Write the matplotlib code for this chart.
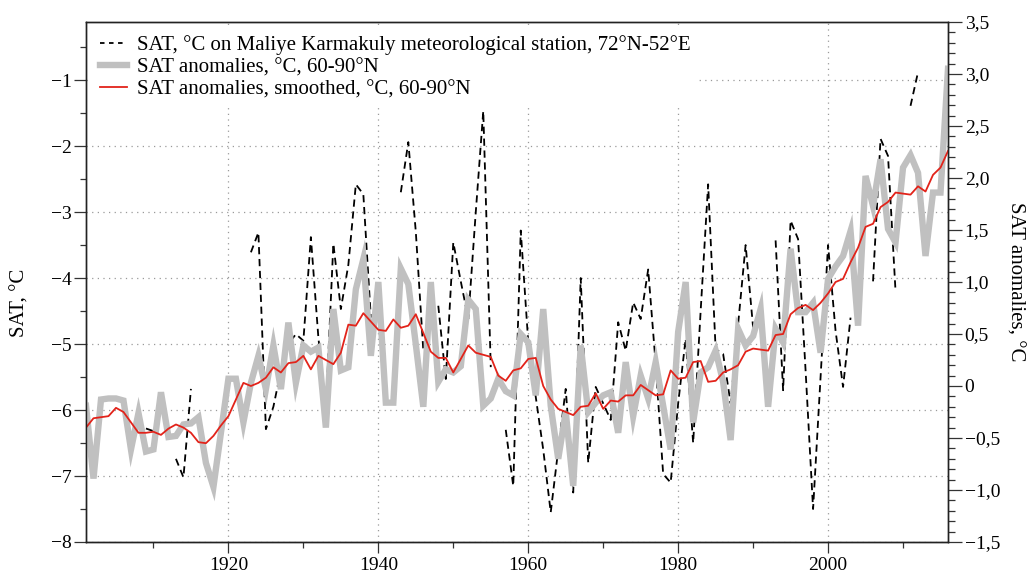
import numpy as np
import matplotlib
matplotlib.use("Agg")
import matplotlib.pyplot as plt
from matplotlib.ticker import MultipleLocator, FuncFormatter
from matplotlib.lines import Line2D

plt.rcParams['font.family'] = ['Liberation Serif', 'DejaVu Serif']

years = np.arange(1901, 2017)

# Annual SAT anomalies, 60-90N (right axis)
anomalies = [
    -0.19, -0.89, -0.13, -0.12, -0.12, -0.14, -0.61, -0.26, -0.63, -0.61,
    -0.06, -0.49, -0.48, -0.37, -0.36, -0.30, -0.74, -0.97, -0.45, 0.07,
    0.07, -0.35, 0.03, 0.29, -0.03, 0.39, -0.03, 0.61, 0.03, 0.39,
    0.33, 0.37, -0.40, 0.74, 0.15, 0.18, 0.93, 1.22, 0.29, 1.00,
    -0.16, -0.16, 1.13, 0.98, 0.40, -0.20, 1.00, 0.04, 0.16, 0.13,
    0.19, 0.83, 0.74, -0.19, -0.12, 0.07, -0.05, -0.09, 0.50, 0.42,
    -0.09, 0.74, -0.19, -0.70, -0.25, -0.96, 0.39, -0.25, -0.16, -0.09,
    -0.06, -0.45, 0.23, -0.29, 0.10, -0.12, 0.23, -0.19, -0.61, 0.52,
    1.00, -0.35, 0.13, 0.18, 0.34, 0.04, -0.52, 0.55, 0.39, 0.48,
    0.74, -0.20, 0.55, 0.42, 1.32, 0.71, 0.71, 0.80, 0.32, 1.03,
    1.15, 1.25, 1.49, 0.58, 2.02, 1.73, 2.18, 1.51, 1.38, 2.10,
    2.22, 2.05, 1.25, 1.86, 1.86, 3.05,
]

# Smoothed SAT anomalies, 60-90N (right axis)
smoothed = [
    -0.40, -0.31, -0.30, -0.29, -0.21, -0.25, -0.35, -0.45, -0.45, -0.44,
    -0.47, -0.41, -0.37, -0.40, -0.45, -0.54, -0.55, -0.48, -0.38, -0.29,
    -0.13, 0.03, 0.00, 0.03, 0.08, 0.18, 0.13, 0.22, 0.23, 0.29,
    0.16, 0.29, 0.25, 0.21, 0.32, 0.59, 0.58, 0.70, 0.62, 0.54,
    0.53, 0.64, 0.56, 0.58, 0.69, 0.51, 0.33, 0.27, 0.27, 0.13,
    0.26, 0.39, 0.32, 0.30, 0.28, 0.10, 0.05, 0.15, 0.17, 0.26,
    0.27, 0.00, -0.13, -0.22, -0.25, -0.28, -0.20, -0.19, -0.07, -0.22,
    -0.14, -0.15, -0.09, -0.09, 0.01, -0.04, -0.09, -0.08, 0.15, 0.07,
    0.08, 0.23, 0.24, 0.04, 0.05, 0.13, 0.16, 0.20, 0.33, 0.36,
    0.35, 0.34, 0.49, 0.50, 0.69, 0.75, 0.78, 0.73, 0.80, 0.89,
    1.00, 1.03, 1.19, 1.33, 1.53, 1.56, 1.72, 1.77, 1.86, 1.85,
    1.84, 1.92, 1.87, 2.03, 2.10, 2.26,
]

# Mean annual SAT at Maliye Karmakuly station, deg C (left axis); None = no data
station = [
    None, None, None, None, None, None, None, None, -6.28, -6.32,
    None, None, -6.74, -7.02, -5.68, None, None, None, None, None,
    None, None, -3.61, -3.31, -6.29, -5.95, -5.40, -5.00, -4.85, -4.95,
    -3.38, -4.90, -6.00, -3.48, -4.47, -3.80, -2.58, -2.73, -4.60, None,
    None, None, -2.70, -1.94, -3.30, -5.10, None, -4.42, -5.53, -3.46,
    -4.05, -4.62, -3.00, -1.47, -5.35, None, -6.30, -7.15, -3.28, -4.97,
    -5.80, -6.60, -7.55, -6.60, -5.68, -7.25, -4.00, -6.80, -5.65, -5.90,
    -6.15, -4.67, -5.10, -4.37, -4.62, -3.87, -5.30, -6.97, -7.10, -5.90,
    -4.92, -6.50, -4.50, -2.58, -5.08, -5.15, -5.90, -4.70, -3.50, -4.75,
    None, None, -3.43, -5.70, -3.13, -3.41, -5.40, -7.50, -5.50, -3.50,
    -4.80, -5.65, -4.60, None, None, -4.05, -1.89, -2.15, -4.20, None,
    -1.39, -0.88, None, None, None, None,
]

legend_labels = [
    "SAT, °C on Maliye Karmakuly meteorological station, 72°N-52°E",
    "SAT anomalies, °C, 60-90°N",
    "SAT anomalies, smoothed, °C, 60-90°N",
]

station_arr = np.array([np.nan if v is None else v for v in station], dtype=float)

GRAY = '#c0c0c0'
RED = '#e2231a'
FS = 15
TICK_FS = 14

fig = plt.figure(figsize=(10.32, 5.77), dpi=100)
ax = fig.add_axes([86 / 1032, 35 / 577, 862 / 1032, 520 / 577])
ax2 = ax.twinx()

dash = (0, (4.0, 2.6))
ax.plot(years, station_arr, color='black', lw=1.3, ls=dash)
ax2.plot(years, anomalies, color=GRAY, lw=4.6, solid_joinstyle='miter')
ax2.plot(years, smoothed, color=RED, lw=1.3)

ax.set_xlim(1901, 2016)
ax.set_ylim(-8, -0.12)
ax2.set_ylim(-1.5, 3.5)

# x axis
ax.xaxis.set_major_locator(MultipleLocator(20))
ax.xaxis.set_minor_locator(MultipleLocator(10))
ax.xaxis.set_major_formatter(FuncFormatter(lambda v, _: f"{int(v)}"))

# left axis
ax.yaxis.set_major_locator(MultipleLocator(1))
ax.yaxis.set_minor_locator(MultipleLocator(0.5))
ax.yaxis.set_major_formatter(FuncFormatter(lambda v, _: f"{int(round(v))}".replace('-', '\u2212')))


def comma_fmt(v, _):
    if abs(v) < 1e-9:
        return "0"
    return f"{v:.1f}".replace('.', ',').replace('-', '\u2212')


ax2.yaxis.set_major_locator(MultipleLocator(0.5))
ax2.yaxis.set_minor_locator(MultipleLocator(0.1))
ax2.yaxis.set_major_formatter(FuncFormatter(comma_fmt))

tick_color = '#333333'
ax.tick_params(axis='x', which='major', direction='out', length=8, width=0.9,
               color=tick_color, labelsize=TICK_FS, pad=3, top=False)
ax.tick_params(axis='x', which='minor', direction='out', length=4.3, width=0.9,
               color=tick_color, top=False)
ax.tick_params(axis='y', which='major', direction='out', length=8.5, width=0.9,
               color=tick_color, labelsize=TICK_FS, pad=2, right=False)
ax.tick_params(axis='y', which='minor', direction='out', length=4.3, width=0.9,
               color=tick_color, right=False)
ax2.tick_params(axis='y', which='major', direction='out', length=10, width=0.9,
                color=tick_color, labelsize=TICK_FS, pad=2)
ax2.tick_params(axis='y', which='minor', direction='out', length=5, width=0.9,
                color=tick_color)

for a in (ax, ax2):
    for s in a.spines.values():
        s.set_color('#222222')
        s.set_linewidth(1.0)

grid_kw = dict(color='#9a9a9a', linestyle=(0, (1, 3.5)), linewidth=0.9)
ax.grid(axis='x', which='major', **grid_kw)
ax.grid(axis='y', which='major', **grid_kw)

ax.set_ylabel("SAT, °C", fontsize=FS)
ax.yaxis.set_label_coords(-0.077, 0.46)
ax.yaxis.label.set_verticalalignment('center')
ax2.set_ylabel("SAT anomalies, °C", fontsize=FS, rotation=270)
ax2.yaxis.set_label_coords(1.078, 0.5)
ax2.yaxis.label.set_verticalalignment('center')

handles = [
    Line2D([], [], color='black', lw=1.3, ls=(0, (2.5, 2.5))),
    Line2D([], [], color=GRAY, lw=4.6),
    Line2D([], [], color=RED, lw=1.3),
]
leg = ax2.legend(handles, legend_labels, loc='upper left', bbox_to_anchor=(0, 1),
                 fontsize=FS, frameon=True, facecolor='white', edgecolor='none',
                 framealpha=1, fancybox=False, handlelength=1.3, handletextpad=0.5,
                 labelspacing=0.12, borderpad=0.35, borderaxespad=0.3)

fig.savefig("out.png", dpi=100, facecolor='white')
